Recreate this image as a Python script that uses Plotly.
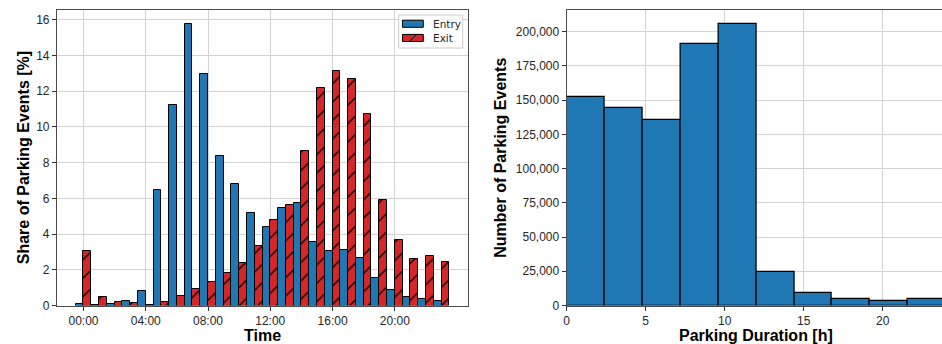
import plotly.graph_objects as go

# Hourly share of parking events (entries vs exits), in percent
hours = list(range(24))
entry_share = [0.10, 0.04, 0.08, 0.26, 0.80, 6.45, 11.25, 15.75, 12.95, 8.35,
               6.80, 5.15, 4.42, 5.46, 5.75, 3.55, 3.06, 3.08, 2.66, 1.56,
               0.88, 0.50, 0.39, 0.26]
exit_share = [3.05, 0.50, 0.19, 0.15, 0.04, 0.18, 0.55, 0.90, 1.33, 1.80,
              2.38, 3.34, 4.80, 5.65, 8.65, 12.15, 13.12, 12.68, 10.73, 5.90,
              3.68, 2.62, 2.77, 2.43]
hour_ticks = [0, 4, 8, 12, 16, 20]
hour_labels = ["00:00", "04:00", "08:00", "12:00", "16:00", "20:00"]

# Parking duration histogram (bin edges in hours, event counts per bin)
duration_edges = [0.0, 2.4, 4.8, 7.2, 9.6, 12.0, 14.4, 16.8, 19.2, 21.6, 24.0]
duration_counts = [152500, 144000, 135500, 191000, 205500, 24300, 9000, 4400, 3400, 5100]

bin_centers = [(a + b) / 2 for a, b in zip(duration_edges[:-1], duration_edges[1:])]
bin_widths = [b - a for a, b in zip(duration_edges[:-1], duration_edges[1:])]

W, H = 942, 344
BLUE = "#1f77b4"
RED = "#d62728"
TXT = "#262626"


def px_x(p):
    return p / W


def px_y(p):
    return 1 - p / H


fig = go.Figure()

fig.add_trace(go.Bar(
    x=hours, y=entry_share, offset=-0.5, width=0.5, name="Entry",
    marker=dict(color=BLUE, line=dict(color="black", width=1)),
    xaxis="x", yaxis="y", showlegend=False,
))
fig.add_trace(go.Bar(
    x=hours, y=exit_share, offset=0.0, width=0.5, name="Exit",
    marker=dict(color=RED, line=dict(color="black", width=1),
                pattern=dict(shape="/", fgcolor="black", bgcolor=RED,
                             size=13, solidity=0.1, fillmode="replace")),
    xaxis="x", yaxis="y", showlegend=False,
))
fig.add_trace(go.Bar(
    x=bin_centers, y=duration_counts, width=bin_widths,
    marker=dict(color=BLUE, line=dict(color="black", width=1.2)),
    xaxis="x2", yaxis="y2", showlegend=False,
))

axis_common = dict(
    showgrid=True, gridcolor="#d3d3d3", gridwidth=1,
    showline=True, linecolor="#4d4d4d", linewidth=1.2,
    ticks="outside", ticklen=4, tickwidth=1, tickcolor="#333333",
    tickfont=dict(family="Liberation Sans, Arial, sans-serif", size=12, color=TXT),
    zeroline=False, automargin=False,
)

y_dom = [px_y(305.5), px_y(10)]

fig.update_layout(
    width=W, height=H,
    margin=dict(l=0, r=0, t=0, b=0),
    paper_bgcolor="white", plot_bgcolor="white",
    barmode="overlay", bargap=0,
    xaxis=dict(domain=[px_x(57), px_x(468)], anchor="y", range=[-1.7, 24.7],
               tickvals=hour_ticks, ticktext=hour_labels, mirror=True, **axis_common),
    yaxis=dict(domain=y_dom, anchor="x", range=[0, 16.54], dtick=2, mirror=True,
               **axis_common),
    xaxis2=dict(domain=[px_x(566.7), 1.0], anchor="y2", range=[0, 23.75],
                dtick=5, mirror=True, **axis_common),
    yaxis2=dict(domain=y_dom, anchor="x2", range=[0, 215775], dtick=25000,
                tickformat=",", **axis_common),
)

title_font = dict(family="Liberation Sans, Arial, sans-serif", size=16,
                  color="black", weight="bold")
annotations = [
    dict(text="Time", x=px_x(262.5), y=px_y(335.5)),
    dict(text="Share of Parking Events [%]", x=px_x(23.5), y=px_y(157.75), textangle=-90),
    dict(text="Parking Duration [h]", x=px_x(755.5), y=px_y(335.5)),
    dict(text="Number of Parking Events", x=px_x(501), y=px_y(157.75), textangle=-90),
]
for a in annotations:
    fig.add_annotation(xref="paper", yref="paper", showarrow=False,
                       xanchor="center", yanchor="middle", font=title_font, **a)

# Legend for the hourly chart
legend_font = dict(family="DejaVu Sans, sans-serif", size=10.5, color=TXT)
fig.add_shape(type="rect", xref="paper", yref="paper", layer="above",
              x0=px_x(398.7), x1=px_x(462.7), y0=px_y(48), y1=px_y(15),
              line=dict(color="#cccccc", width=1), fillcolor="rgba(255,255,255,0.85)")
fig.add_shape(type="rect", xref="paper", yref="paper", layer="above",
              x0=px_x(402.5), x1=px_x(423.3), y0=px_y(27.3), y1=px_y(20.2),
              line=dict(color="black", width=1), fillcolor=BLUE)
fig.add_shape(type="rect", xref="paper", yref="paper", layer="above",
              x0=px_x(402.5), x1=px_x(423.3), y0=px_y(41.5), y1=px_y(34.4),
              line=dict(color="black", width=1), fillcolor=RED)
fig.add_shape(type="line", xref="paper", yref="paper", layer="above",
              x0=px_x(409.5), x1=px_x(416.5), y0=px_y(41.3), y1=px_y(34.6),
              line=dict(color="black", width=1))
fig.add_annotation(text="Entry", xref="paper", yref="paper", showarrow=False,
                   x=px_x(431), y=px_y(23.8), xanchor="left", yanchor="middle",
                   font=legend_font)
fig.add_annotation(text="Exit", xref="paper", yref="paper", showarrow=False,
                   x=px_x(431), y=px_y(38), xanchor="left", yanchor="middle",
                   font=legend_font)

fig.write_html("out.html")
